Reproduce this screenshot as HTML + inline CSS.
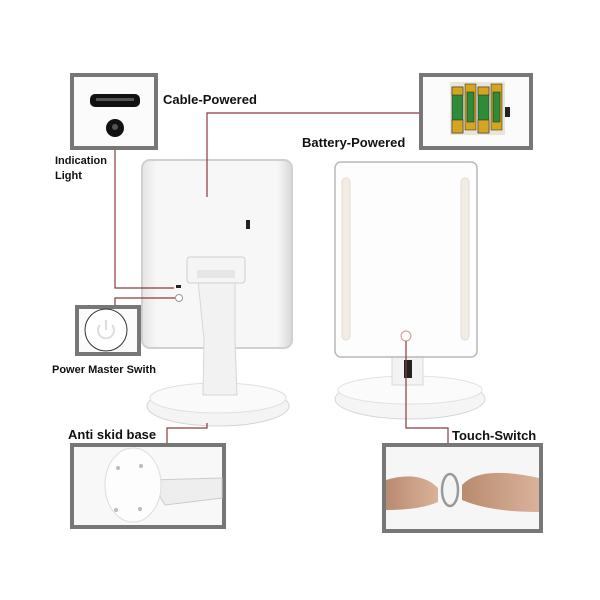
<!DOCTYPE html>
<html><head><meta charset="utf-8"><style>
html,body{margin:0;padding:0;background:#fff}
svg{display:block}
text{font-family:"Liberation Sans",sans-serif;font-weight:bold;fill:#111}
</style></head><body>
<svg width="600" height="600" viewBox="0 0 600 600">
<defs>
<linearGradient id="g1" x1="0" x2="1"><stop offset="0" stop-color="#e4e4e4"/><stop offset="0.1" stop-color="#f7f7f7"/><stop offset="0.9" stop-color="#f7f7f7"/><stop offset="1" stop-color="#d8d8d8"/></linearGradient>
<linearGradient id="skin" x1="0" x2="1"><stop offset="0" stop-color="#b98b70"/><stop offset="1" stop-color="#d9b29a"/></linearGradient>
</defs>
<!-- left mirror back -->
<rect x="142" y="160" width="150" height="188" rx="8" fill="url(#g1)" stroke="#d0d0d0" stroke-width="2"/>
<rect x="246" y="220" width="4" height="9" fill="#222"/>
<!-- left stand -->
<ellipse cx="218" cy="406" rx="71" ry="20" fill="#f4f4f4" stroke="#d4d4d4"/>
<ellipse cx="218" cy="398" rx="68" ry="15" fill="#fafafa" stroke="#e0e0e0"/>
<path d="M197 270 L235 270 L235 340 L237 395 L203 395 L204 340 Z" fill="#f2f2f2" stroke="#d6d6d6"/>
<rect x="187" y="257" width="58" height="26" rx="3" fill="#f5f5f5" stroke="#cfcfcf"/>
<rect x="197" y="270" width="38" height="8" fill="#e6e6e6"/>
<rect x="176" y="285" width="5" height="3" fill="#222"/>
<circle cx="179" cy="298" r="3.5" fill="#fff" stroke="#999"/>
<!-- right mirror -->
<ellipse cx="410" cy="399" rx="75" ry="20" fill="#f5f5f5" stroke="#d6d6d6"/>
<ellipse cx="410" cy="390" rx="72" ry="14" fill="#fbfbfb" stroke="#e2e2e2"/>
<rect x="392" y="350" width="31" height="35" fill="#f3f3f3" stroke="#d8d8d8"/>
<rect x="404" y="360" width="8" height="18" fill="#222"/>
<rect x="335" y="162" width="142" height="195" rx="6" fill="#fdfdfd" stroke="#b8b8b8" stroke-width="1.5"/>
<rect x="342" y="178" width="8" height="162" rx="4" fill="#f2ece4" stroke="#e2dbd2"/>
<rect x="461" y="178" width="8" height="162" rx="4" fill="#f2ece4" stroke="#e2dbd2"/>
<circle cx="406" cy="336" r="5" fill="#fff" stroke="#c98"/>
<!-- red connectors -->
<g fill="none" stroke="#8b3a3a" stroke-width="1.2">
<polyline points="207,197 207,113 423,113"/>
<polyline points="115,150 115,288 174,288"/>
<polyline points="115,305 115,298 175,298"/>
<polyline points="406,341 406,428 448,428 448,443"/>
<polyline points="167,445 167,428 207,428 207,423"/>
</g>
<!-- top-left box -->
<rect x="72" y="75" width="84" height="73" fill="#fbfbfb" stroke="#777" stroke-width="4"/>
<rect x="90" y="94" width="50" height="13" rx="5" fill="#111"/>
<rect x="96" y="98" width="38" height="3" fill="#555"/>
<circle cx="115" cy="128" r="9" fill="#111"/>
<circle cx="115" cy="127" r="3" fill="#555"/>
<!-- power box -->
<rect x="77" y="307" width="62" height="47" fill="#fbfbfb" stroke="#777" stroke-width="4"/>
<circle cx="106" cy="330" r="21" fill="#fff" stroke="#333" stroke-width="1"/>
<path d="M100 325 A8 8 0 1 0 112 325" fill="none" stroke="#ddd" stroke-width="2"/>
<line x1="106" y1="320" x2="106" y2="330" stroke="#ddd" stroke-width="2"/>
<!-- battery box -->
<rect x="421" y="75" width="110" height="73" fill="#fbfbfb" stroke="#777" stroke-width="4"/>
<rect x="450" y="82" width="55" height="53" fill="#e8e4d8"/>
<g stroke="#222" stroke-width="0.5">
<rect x="452" y="87" width="11" height="46" fill="#2f8a3a"/><rect x="452" y="87" width="11" height="8" fill="#d4a520"/><rect x="452" y="120" width="11" height="13" fill="#d4a520"/>
<rect x="465" y="84" width="11" height="46" fill="#d4a520"/><rect x="467" y="92" width="7" height="30" fill="#2f8a3a"/>
<rect x="478" y="87" width="11" height="46" fill="#2f8a3a"/><rect x="478" y="87" width="11" height="8" fill="#d4a520"/><rect x="478" y="120" width="11" height="13" fill="#d4a520"/>
<rect x="491" y="84" width="11" height="46" fill="#d4a520"/><rect x="493" y="92" width="7" height="30" fill="#2f8a3a"/>
</g>
<rect x="505" y="107" width="5" height="10" fill="#222"/>
<!-- bottom-left box -->
<rect x="72" y="445" width="152" height="82" fill="#f8f8f8" stroke="#777" stroke-width="4"/>
<path d="M150 480 L222 478 L222 498 L165 505 Z" fill="#eee" stroke="#ccc"/>
<ellipse cx="133" cy="485" rx="28" ry="37" fill="#fdfdfd" stroke="#ddd"/>
<circle cx="118" cy="468" r="2" fill="#bbb"/><circle cx="141" cy="466" r="2" fill="#bbb"/><circle cx="116" cy="510" r="2" fill="#bbb"/><circle cx="140" cy="509" r="2" fill="#bbb"/>
<!-- bottom-right box -->
<rect x="384" y="445" width="157" height="86" fill="#f6f6f6" stroke="#777" stroke-width="4"/>
<path d="M386 480 Q420 470 438 488 L438 502 Q420 510 386 510 Z" fill="url(#skin)"/>
<path d="M539 478 Q480 465 462 485 L462 500 Q490 512 539 512 Z" fill="url(#skin)"/>
<ellipse cx="450" cy="490" rx="8" ry="16" fill="#f4f4f4" stroke="#999" stroke-width="2.5"/>
<!-- labels -->
<text x="163" y="104" font-size="13">Cable-Powered</text>
<text x="302" y="147" font-size="13">Battery-Powered</text>
<text x="55" y="164" font-size="11">Indication</text>
<text x="55" y="179" font-size="11">Light</text>
<text x="52" y="373" font-size="11">Power Master Swith</text>
<text x="68" y="439" font-size="13">Anti skid base</text>
<text x="452" y="440" font-size="13">Touch-Switch</text>
</svg>
</body></html>
